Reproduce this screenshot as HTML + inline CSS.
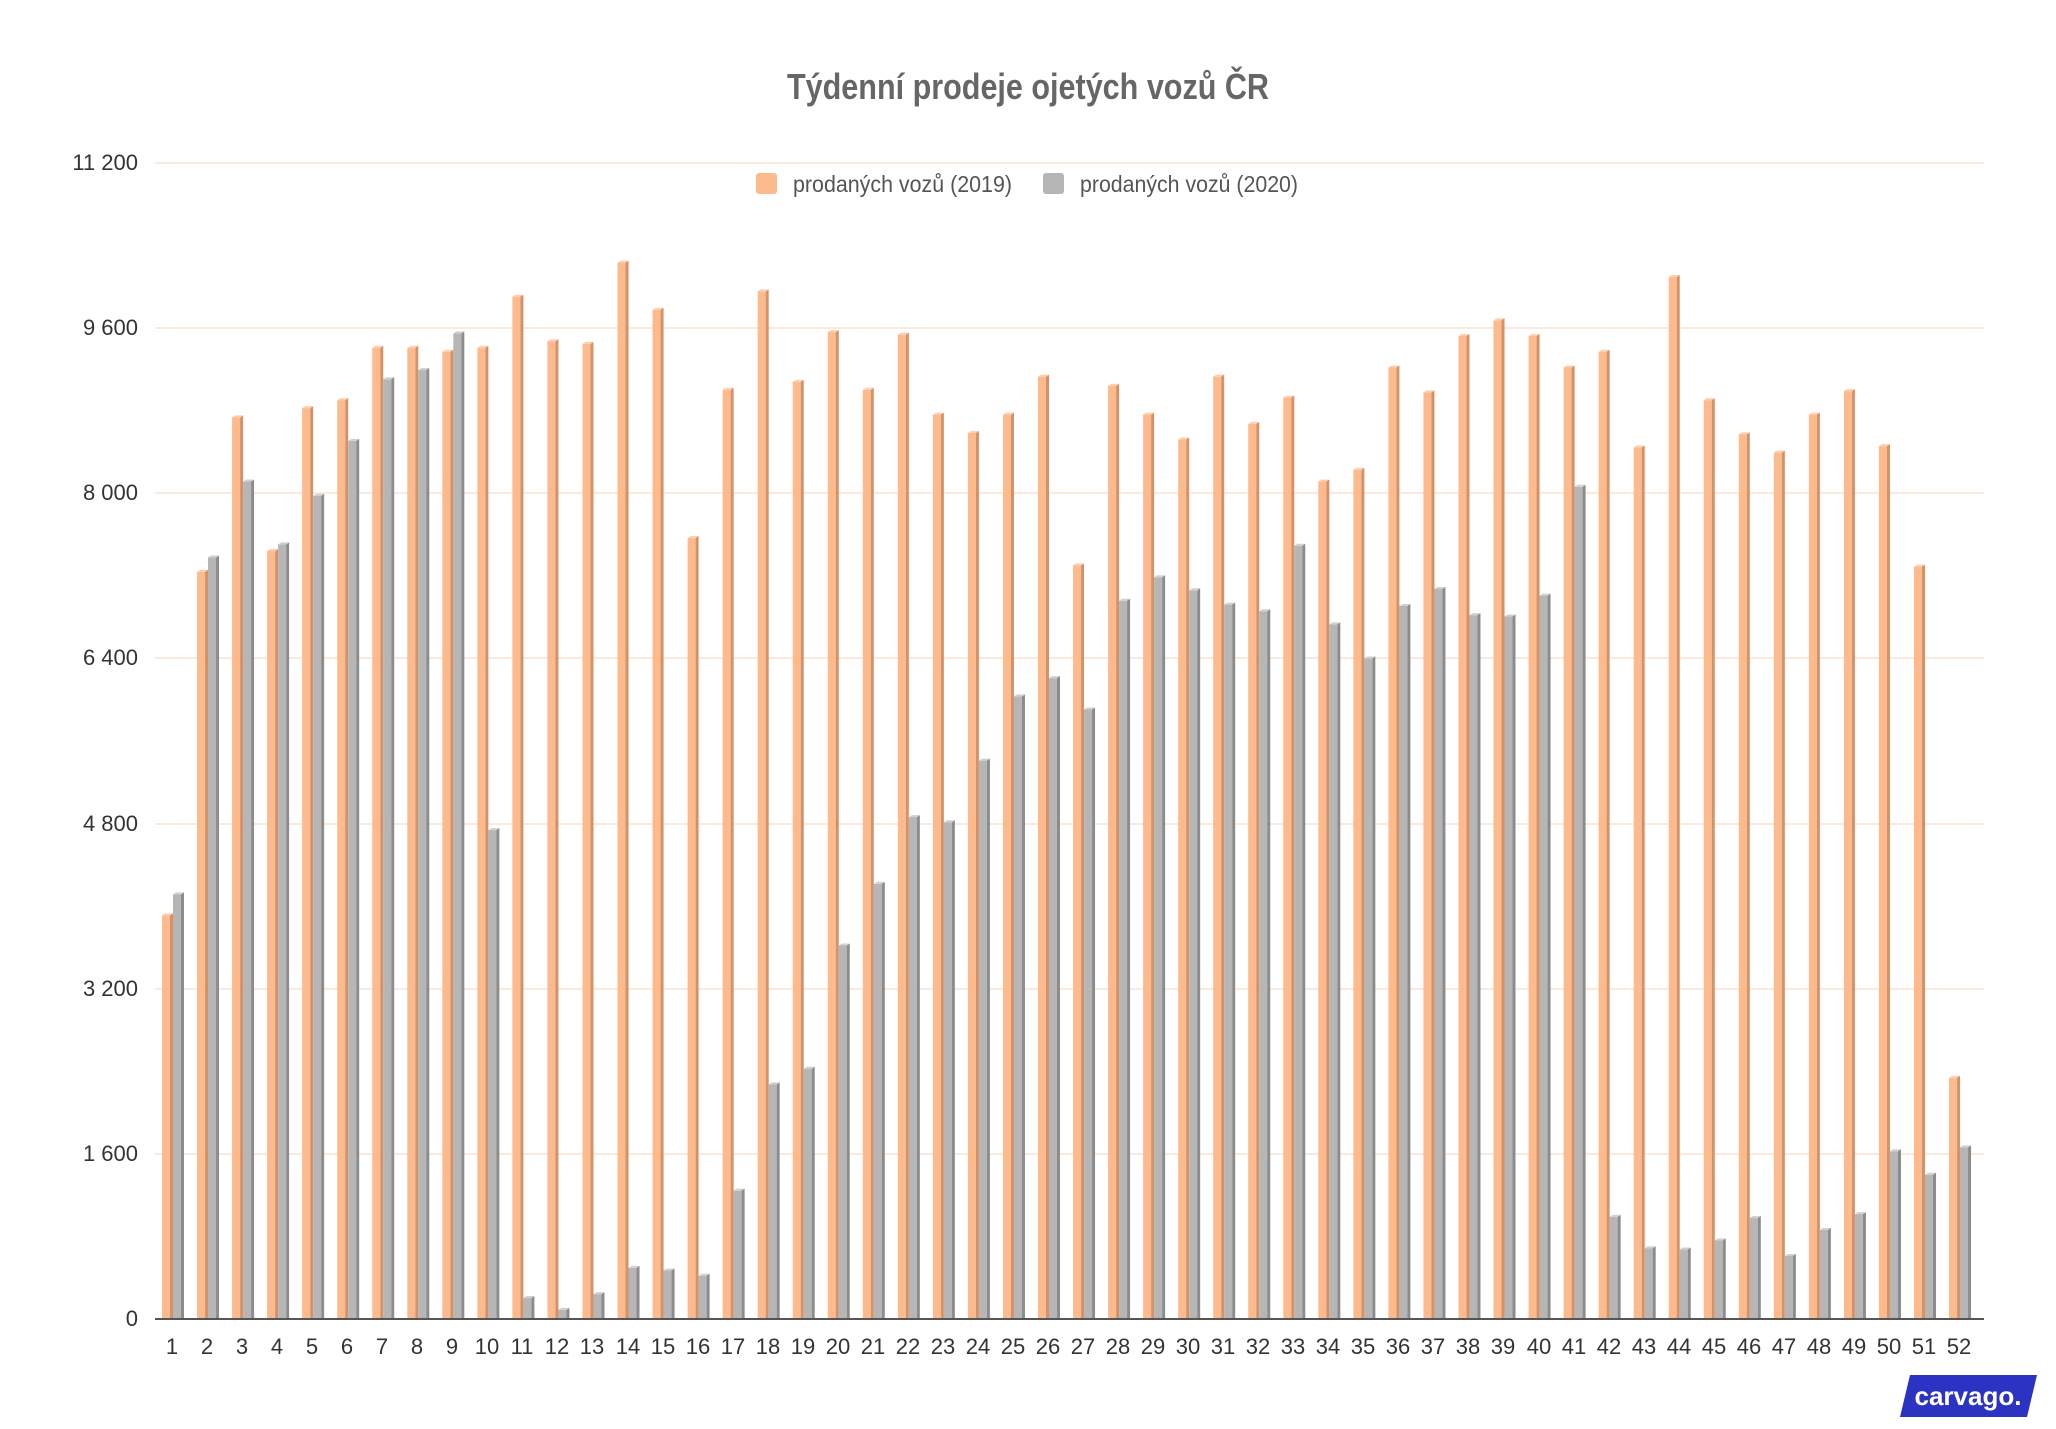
<!DOCTYPE html>
<html><head><meta charset="utf-8"><style>
html,body{margin:0;padding:0;background:#fff;}
svg{display:block;font-family:"Liberation Sans",sans-serif;}
</style></head><body>
<svg id="c" width="2056" height="1429" viewBox="0 0 2056 1429" xmlns="http://www.w3.org/2000/svg">
<rect width="2056" height="1429" fill="#fff"/>
<text x="1028" y="99" text-anchor="middle" font-size="36" font-weight="bold" fill="#666" textLength="482" lengthAdjust="spacingAndGlyphs">Týdenní prodeje ojetých vozů ČR</text>
<g stroke="#f7e3d2" stroke-width="1.5">
<line x1="155" y1="163" x2="1984" y2="163"/><line x1="155" y1="328" x2="1984" y2="328"/><line x1="155" y1="493" x2="1984" y2="493"/><line x1="155" y1="658" x2="1984" y2="658"/><line x1="155" y1="824" x2="1984" y2="824"/><line x1="155" y1="989" x2="1984" y2="989"/><line x1="155" y1="1154" x2="1984" y2="1154"/>
</g>
<g font-size="22" fill="#333" text-anchor="end">
<text x="138" y="170">11 200</text><text x="138" y="335">9 600</text><text x="138" y="500">8 000</text><text x="138" y="665">6 400</text><text x="138" y="831">4 800</text><text x="138" y="996">3 200</text><text x="138" y="1161">1 600</text><text x="138" y="1326">0</text>
</g>
<rect x="756" y="173" width="21" height="21" rx="3" fill="#fdba8c"/>
<text x="793" y="192" font-size="23" fill="#555" textLength="219" lengthAdjust="spacingAndGlyphs">prodaných vozů (2019)</text>
<rect x="1043" y="173" width="21" height="21" rx="3" fill="#b5b5b5"/>
<text x="1080" y="192" font-size="23" fill="#555" textLength="218" lengthAdjust="spacingAndGlyphs">prodaných vozů (2020)</text>
<g id="bars"></g>
<line x1="155" y1="1319" x2="1984" y2="1319" stroke="#555" stroke-width="2"/>
<g font-size="22" fill="#333" text-anchor="middle">
<text x="172" y="1354">1</text><text x="207" y="1354">2</text><text x="242" y="1354">3</text><text x="277" y="1354">4</text><text x="312" y="1354">5</text><text x="347" y="1354">6</text><text x="382" y="1354">7</text><text x="417" y="1354">8</text><text x="452" y="1354">9</text><text x="487" y="1354">10</text><text x="522" y="1354">11</text><text x="557" y="1354">12</text><text x="592" y="1354">13</text><text x="628" y="1354">14</text><text x="663" y="1354">15</text><text x="698" y="1354">16</text><text x="733" y="1354">17</text><text x="768" y="1354">18</text><text x="803" y="1354">19</text><text x="838" y="1354">20</text><text x="873" y="1354">21</text><text x="908" y="1354">22</text><text x="943" y="1354">23</text><text x="978" y="1354">24</text><text x="1013" y="1354">25</text><text x="1048" y="1354">26</text><text x="1083" y="1354">27</text><text x="1118" y="1354">28</text><text x="1153" y="1354">29</text><text x="1188" y="1354">30</text><text x="1223" y="1354">31</text><text x="1258" y="1354">32</text><text x="1293" y="1354">33</text><text x="1328" y="1354">34</text><text x="1363" y="1354">35</text><text x="1398" y="1354">36</text><text x="1433" y="1354">37</text><text x="1468" y="1354">38</text><text x="1503" y="1354">39</text><text x="1539" y="1354">40</text><text x="1574" y="1354">41</text><text x="1609" y="1354">42</text><text x="1644" y="1354">43</text><text x="1679" y="1354">44</text><text x="1714" y="1354">45</text><text x="1749" y="1354">46</text><text x="1784" y="1354">47</text><text x="1819" y="1354">48</text><text x="1854" y="1354">49</text><text x="1889" y="1354">50</text><text x="1924" y="1354">51</text><text x="1959" y="1354">52</text>
</g>
<polygon points="1910,1375 2037,1375 2027,1417 1900,1417" fill="#2c33c2"/>
<text x="1968" y="1405" text-anchor="middle" font-size="26" font-weight="bold" fill="#fff">carvago.</text>
</svg>
<script>
var a=[3911,7238,8736,7441,8825,8902,9410,9410,9371,9410,9905,9473,9448,10235,9778,7568,9003,9956,9079,9562,9003,9537,8762,8584,8762,9130,7302,9041,8762,8521,9130,8673,8927,8114,8228,9219,8978,9524,9676,9524,9219,9371,8444,10095,8902,8571,8394,8762,8990,8457,7289,2337];
var b=[4114,7378,8114,7505,7975,8508,9105,9194,9549,4737,203,89,241,495,470,419,1244,2273,2425,3619,4216,4863,4813,5410,6032,6209,5905,6959,7187,7060,6921,6857,7492,6730,6400,6908,7073,6819,6806,7009,8063,990,686,673,762,978,610,863,1016,1625,1397,1663];
var s='',k=1156/11200;
function bar(x,v,f,sd,tp){var y=1319-v*k,h=1319-y;
s+='<rect x="'+x+'" y="'+y+'" width="8" height="'+h+'" fill="'+f+'"/>';
s+='<polygon points="'+(x+8)+','+y+' '+(x+11)+','+(y-2)+' '+(x+11)+',1319 '+(x+8)+',1319" fill="'+sd+'"/>';
s+='<polygon points="'+x+','+y+' '+(x+3)+','+(y-2)+' '+(x+11)+','+(y-2)+' '+(x+8)+','+y+'" fill="'+tp+'"/>';}
for(var i=0;i<52;i++){var x=162+35.04*i;bar(x,a[i],'#fdba8c','#d49268','#fccfae');bar(x+11,b[i],'#b6b6b6','#8c8c8c','#d0d0d0');}
document.getElementById('bars').innerHTML=s;
</script>
</body></html>
